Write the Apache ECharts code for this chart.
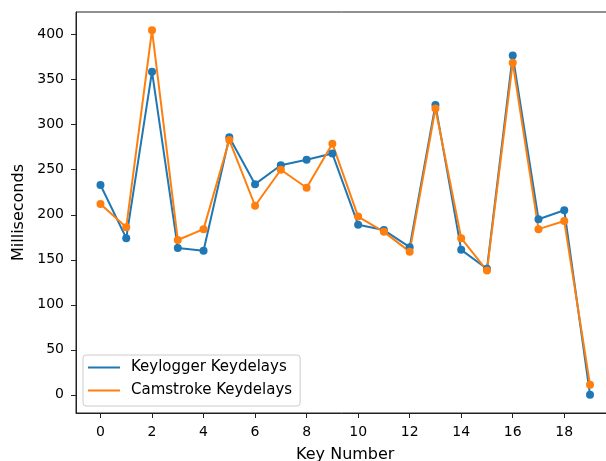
<!DOCTYPE html>
<html>
<head>
<meta charset="utf-8">
<script src="https://cdn.jsdelivr.net/npm/echarts@6/dist/echarts.min.js"></script>
<style>
  html, body { margin: 0; padding: 0; background: #fff; }
  #main { width: 606px; height: 461px; }
</style>
</head>
<body>
<div id="main"></div>
<script>
// key index 0..19
const keys = [0, 1, 2, 3, 4, 5, 6, 7, 8, 9, 10, 11, 12, 13, 14, 15, 16, 17, 18, 19];
// 读图得到的数值（毫秒）
const keyloggerDelays = [233, 174, 359, 163, 160, 286, 234, 255, 261, 268, 189, 183, 164, 322, 161, 140, 377, 195, 205, 0];
const camstrokeDelays = [212, 186, 405, 172, 184, 283, 210, 250, 230, 279, 198, 181, 159, 318, 174, 138, 369, 184, 193, 11];
const xTicks = [0, 2, 4, 6, 8, 10, 12, 14, 16, 18];
const yTicks = [0, 50, 100, 150, 200, 250, 300, 350, 400];

const chart = echarts.init(document.getElementById('main'), null, { renderer: 'canvas' });

const font = 'DejaVu Sans';
const toPairs = vals => keys.map((k, i) => [k, vals[i]]);

const option = {
  animation: false,
  backgroundColor: '#fff',
  textStyle: { fontFamily: font },
  // 右边框被裁掉了，所以 grid 超出画布
  grid: {
    left: 76, width: 538.5, top: 12, bottom: 48,
    outerBoundsMode: 'none',
    show: true, borderColor: '#222', borderWidth: 1
  },
  legend: {
    orient: 'vertical',
    left: 83, top: 355,
    padding: [5, 8, 8, 5],
    itemGap: 8,
    icon: 'rect',
    itemWidth: 32, itemHeight: 2,
    backgroundColor: 'rgba(255,255,255,0.8)',
    borderColor: '#ccc', borderWidth: 1, borderRadius: 3,
    textStyle: { fontFamily: font, fontSize: 15, color: '#000', padding: [0, 0, 0, 6] },
    data: ['Keylogger Keydelays', 'Camstroke Keydelays']
  },
  xAxis: {
    type: 'value',
    min: -0.95, max: 19.95,
    name: 'Key Number', nameLocation: 'middle', nameGap: 34,
    nameTextStyle: { fontFamily: font, fontSize: 16, color: '#000' },
    axisLine: { show: true, onZero: false, lineStyle: { color: '#222' } },
    axisTick: { show: true, length: 5, customValues: xTicks, lineStyle: { color: '#222' } },
    axisLabel: { customValues: xTicks, fontFamily: font, fontSize: 14, color: '#000', margin: 12 },
    splitLine: { show: false }
  },
  yAxis: {
    type: 'value',
    min: -20.25, max: 425.25,
    name: 'Milliseconds', nameLocation: 'middle', nameGap: 48,
    nameTextStyle: { fontFamily: font, fontSize: 16, color: '#000' },
    axisLine: { show: true, onZero: false, lineStyle: { color: '#222' } },
    axisTick: { show: true, length: 5, customValues: yTicks, lineStyle: { color: '#222' } },
    axisLabel: { customValues: yTicks, fontFamily: font, fontSize: 14, color: '#000', margin: 12 },
    splitLine: { show: false }
  },
  series: [
    {
      name: 'Keylogger Keydelays',
      type: 'line',
      data: toPairs(keyloggerDelays),
      symbol: 'circle', symbolSize: 8, showAllSymbol: true,
      itemStyle: { color: '#1f77b4' },
      lineStyle: { width: 2, color: '#1f77b4' }
    },
    {
      name: 'Camstroke Keydelays',
      type: 'line',
      data: toPairs(camstrokeDelays),
      symbol: 'circle', symbolSize: 8, showAllSymbol: true,
      itemStyle: { color: '#ff7f0e' },
      lineStyle: { width: 2, color: '#ff7f0e' }
    }
  ]
};

chart.setOption(option);
</script>
</body>
</html>
